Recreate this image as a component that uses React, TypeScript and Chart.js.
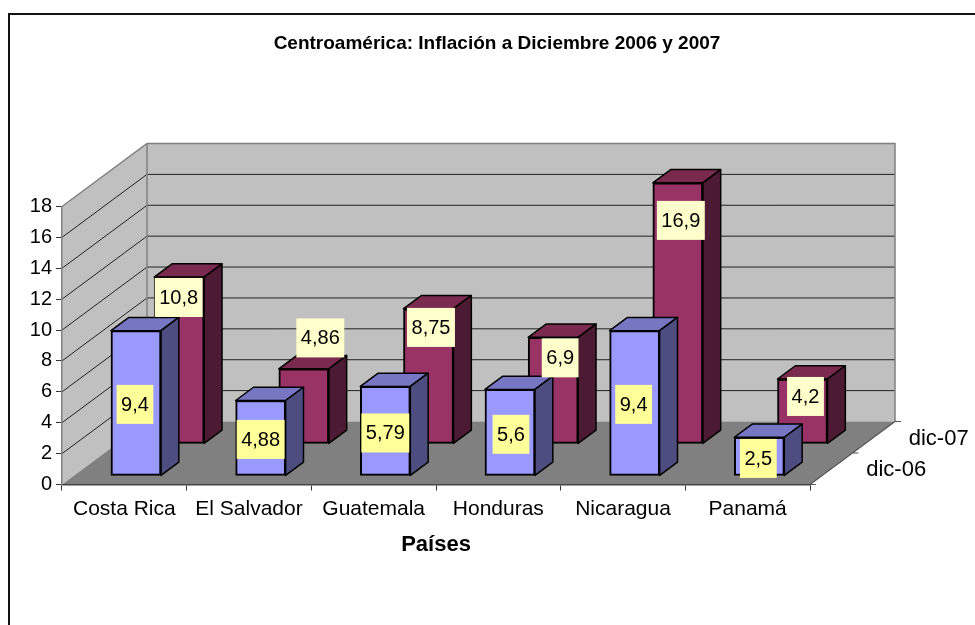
import React, { useEffect, useRef } from "react";
import { Chart, registerables } from "chart.js";

Chart.register(...registerables);

const categories = ["Costa Rica", "El Salvador", "Guatemala", "Honduras", "Nicaragua", "Panamá"];
const dic06 = [9.4, 4.88, 5.79, 5.6, 9.4, 2.5];
const dic07 = [10.8, 4.86, 8.75, 6.9, 16.9, 4.2];
const seriesNames = ["dic-06", "dic-07"];

const FONT = "'Liberation Sans', Arial, sans-serif";
const DEPTH_X = 85;
const DEPTH_Y = -63;
const SERIES_FRAC = [0.137, 0.645];
const BAR_FRAC = 0.21;
const FACE = [
  { top: "#7676C2", side: "#4D4D80", label: "#FFFF99" },
  { top: "#7A294F", side: "#4D1A33", label: "#FFFFCC" },
];
// where each value label sits: height above the series' floor (axis units) and sideways nudge (px)
const LABEL_AT = [
  [4.63, 2.36, 2.78, 2.69, 4.63, 1.13],
  [9.48, 6.86, 7.54, 5.57, 14.47, 3.07],
];
const LABEL_NUDGE = [
  [-1, 0, 0, 1, -1, -1],
  [-0.5, 16.5, 2.5, 7, 3, 3],
];

const plugin3d = {
  id: "plugin3d",
  beforeDraw(chart: any) {
    const { ctx, chartArea: a, scales } = chart;
    const y = scales.y;
    ctx.save();
    ctx.fillStyle = "#fff";
    ctx.fillRect(0, 0, chart.width, chart.height);
    // outer frame
    ctx.strokeStyle = "#111";
    ctx.lineWidth = 2;
    ctx.strokeRect(9, 14, chart.width + 40, chart.height + 40);
    const y0 = y.getPixelForValue(0);
    const yMax = y.getPixelForValue(18);
    // left wall
    ctx.fillStyle = "#C0C0C0";
    ctx.beginPath();
    ctx.moveTo(a.left, y0);
    ctx.lineTo(a.left, yMax);
    ctx.lineTo(a.left + DEPTH_X, yMax + DEPTH_Y);
    ctx.lineTo(a.left + DEPTH_X, y0 + DEPTH_Y);
    ctx.closePath();
    ctx.fill();
    // back wall
    ctx.fillRect(a.left + DEPTH_X, yMax + DEPTH_Y, a.right - a.left, y0 - yMax);
    // grid on the walls
    ctx.strokeStyle = "#222";
    ctx.lineWidth = 1;
    y.ticks.forEach((t: any) => {
      if (t.value === 0 || t.value === 18) return;
      const p = y.getPixelForValue(t.value);
      ctx.beginPath();
      ctx.moveTo(a.left, p);
      ctx.lineTo(a.left + DEPTH_X, p + DEPTH_Y);
      ctx.lineTo(a.right + DEPTH_X, p + DEPTH_Y);
      ctx.stroke();
    });
    // wall outline
    ctx.strokeStyle = "#808080";
    ctx.lineWidth = 1.5;
    ctx.beginPath();
    ctx.moveTo(a.left, yMax);
    ctx.lineTo(a.left + DEPTH_X, yMax + DEPTH_Y);
    ctx.lineTo(a.right + DEPTH_X, yMax + DEPTH_Y);
    ctx.lineTo(a.right + DEPTH_X, y0 + DEPTH_Y);
    ctx.moveTo(a.left + DEPTH_X, yMax + DEPTH_Y);
    ctx.lineTo(a.left + DEPTH_X, y0 + DEPTH_Y);
    ctx.stroke();
    // floor
    ctx.fillStyle = "#808080";
    ctx.beginPath();
    ctx.moveTo(a.left, y0);
    ctx.lineTo(a.right, y0);
    ctx.lineTo(a.right + DEPTH_X, y0 + DEPTH_Y);
    ctx.lineTo(a.left + DEPTH_X, y0 + DEPTH_Y);
    ctx.closePath();
    ctx.fill();
    // depth axis with its ticks
    ctx.strokeStyle = "#555";
    ctx.lineWidth = 1.2;
    ctx.beginPath();
    ctx.moveTo(a.right, y0);
    ctx.lineTo(a.right + DEPTH_X, y0 + DEPTH_Y);
    [0, 0.5, 1].forEach((f) => {
      const x = a.right + DEPTH_X * f;
      const yy = y0 + DEPTH_Y * f;
      ctx.moveTo(x, yy);
      ctx.lineTo(x + 6, yy);
    });
    ctx.stroke();
    // depth axis labels
    ctx.fillStyle = "#000";
    ctx.font = `22px ${FONT}`;
    ctx.textAlign = "left";
    ctx.textBaseline = "middle";
    seriesNames.forEach((name, i) => {
      const f = i === 0 ? 0.25 : 0.75;
      ctx.fillText(name, a.right + DEPTH_X * f + 35, y0 + DEPTH_Y * f + 1.5);
    });
    ctx.restore();
  },
  beforeDatasetDraw(chart: any, args: any) {
    const { ctx } = chart;
    const i = args.index;
    const f = SERIES_FRAC[i];
    ctx.save();
    ctx.translate(DEPTH_X * f, DEPTH_Y * f);
    const dx = DEPTH_X * BAR_FRAC;
    const dy = DEPTH_Y * BAR_FRAC;
    ctx.strokeStyle = "#000";
    ctx.lineWidth = 1.5;
    ctx.lineJoin = "round";
    args.meta.data.forEach((bar: any) => {
      const p = bar.getProps(["x", "y", "base", "width"], true);
      const l = p.x - p.width / 2;
      const r = p.x + p.width / 2;
      ctx.fillStyle = FACE[i].top;
      ctx.beginPath();
      ctx.moveTo(l, p.y);
      ctx.lineTo(l + dx, p.y + dy);
      ctx.lineTo(r + dx, p.y + dy);
      ctx.lineTo(r, p.y);
      ctx.closePath();
      ctx.fill();
      ctx.stroke();
      ctx.fillStyle = FACE[i].side;
      ctx.beginPath();
      ctx.moveTo(r, p.y);
      ctx.lineTo(r + dx, p.y + dy);
      ctx.lineTo(r + dx, p.base + dy);
      ctx.lineTo(r, p.base);
      ctx.closePath();
      ctx.fill();
      ctx.stroke();
    });
  },
  afterDatasetDraw(chart: any) {
    chart.ctx.restore();
  },
  afterDatasetsDraw(chart: any) {
    const { ctx, scales } = chart;
    const y = scales.y;
    ctx.save();
    ctx.font = `20px ${FONT}`;
    ctx.textAlign = "center";
    ctx.textBaseline = "middle";
    [dic07, dic06].forEach((vals, k) => {
      const idx = k === 0 ? 1 : 0;
      const meta = chart.getDatasetMeta(idx);
      const f = SERIES_FRAC[idx];
      vals.forEach((v, j) => {
        const bar = meta.data[j];
        const cx = bar.getProps(["x"], true).x + DEPTH_X * f + LABEL_NUDGE[idx][j];
        const cy = y.getPixelForValue(LABEL_AT[idx][j]) + DEPTH_Y * f;
        const text = String(v).replace(".", ",");
        const w = ctx.measureText(text).width + 9;
        ctx.fillStyle = FACE[idx].label;
        ctx.fillRect(cx - w / 2, cy - 19.5, w, 39);
        ctx.fillStyle = "#000";
        ctx.fillText(text, cx, cy + 1);
      });
    });
    ctx.restore();
  },
};

export default function App() {
  const ref = useRef<HTMLCanvasElement>(null);
  useEffect(() => {
    const chart = new Chart(ref.current!, {
      type: "bar",
      data: {
        labels: categories,
        datasets: [
          { label: seriesNames[0], data: dic06, backgroundColor: "#9999FF", borderColor: "#000", borderWidth: 2, borderSkipped: false, clip: false },
          { label: seriesNames[1], data: dic07, backgroundColor: "#993366", borderColor: "#000", borderWidth: 2, borderSkipped: false, clip: false },
        ] as any,
      },
      plugins: [plugin3d],
      options: {
        responsive: false,
        animation: false,
        layout: { padding: { left: 19, right: 0, top: 0, bottom: 67 } },
        datasets: { bar: { grouped: false, barThickness: 50 } },
        plugins: {
          legend: { display: false },
          tooltip: { enabled: false },
          title: {
            display: true,
            text: "Centroamérica: Inflación a Diciembre 2006 y 2007",
            color: "#000",
            font: { family: FONT, size: 19, weight: "bold" },
            padding: { top: 32, bottom: 151.7 },
          },
        },
        scales: {
          x: {
            offset: true,
            grid: { drawOnChartArea: false, drawTicks: true, tickLength: 6, color: "#333", offset: true },
            border: { color: "#444", width: 1.5 },
            ticks: { color: "#000", font: { family: FONT, size: 21 }, maxRotation: 0, minRotation: 0, padding: 6 },
            title: {
              display: true,
              text: "Países",
              color: "#000",
              font: { family: FONT, size: 22, weight: "bold" },
              padding: { top: 13, bottom: 0 },
            },
            afterFit: (s: any) => { s.height = 73.5; },
          },
          y: {
            min: 0,
            max: 18,
            grid: { drawOnChartArea: false, drawTicks: true, tickLength: 6, color: "#333" },
            border: { color: "#808080", width: 1.5 },
            ticks: { color: "#000", stepSize: 2, font: { family: FONT, size: 20 }, padding: 4 },
            afterFit: (s: any) => { s.width = 43; },
          },
          side: {
            type: "linear",
            position: "right",
            grid: { display: false },
            border: { display: false },
            ticks: { display: false },
            afterFit: (s: any) => { s.width = 165; },
          },
        },
      } as any,
    });
    return () => chart.destroy();
  }, []);
  return (
    <div style={{ position: "fixed", left: 0, top: 0, width: 975, height: 625, overflow: "hidden" }}>
      <canvas ref={ref} width={975} height={625} style={{ display: "block" }} />
    </div>
  );
}
